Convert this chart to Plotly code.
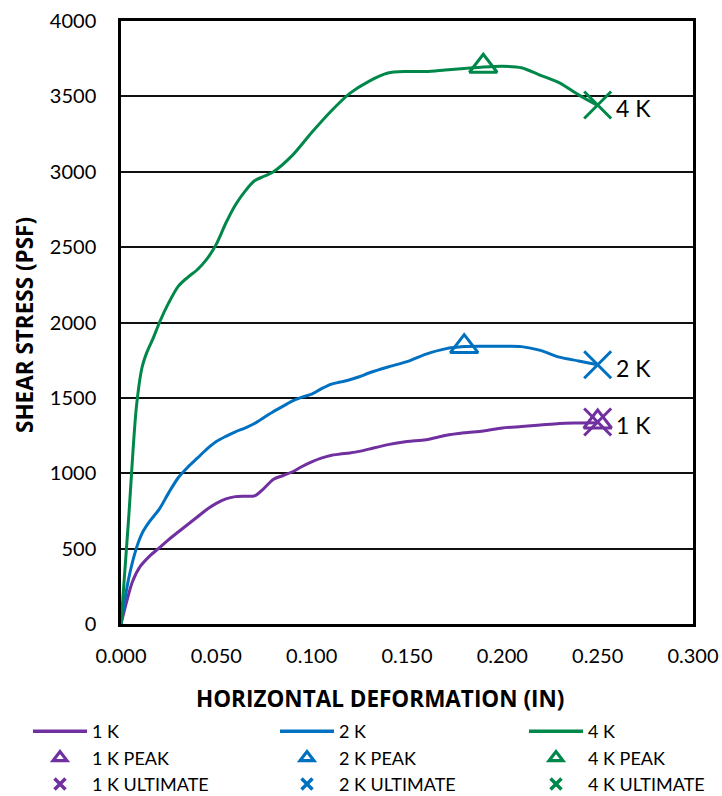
import plotly.graph_objects as go

# ---- data ----
x_1k = [0, 0.003, 0.006, 0.010, 0.015, 0.020, 0.025, 0.030, 0.035, 0.040, 0.045, 0.050, 0.055,
        0.060, 0.065, 0.070, 0.075, 0.080, 0.085, 0.090, 0.095, 0.100, 0.105, 0.110, 0.115,
        0.120, 0.125, 0.130, 0.140, 0.150, 0.160, 0.170, 0.180, 0.190, 0.200, 0.210, 0.220,
        0.230, 0.240, 0.250]
y_1k = [0, 150, 280, 380, 450, 505, 560, 610, 660, 710, 760, 800, 830,
        845, 848, 850, 900, 960, 985, 1010, 1045, 1075, 1100, 1118, 1127,
        1135, 1145, 1160, 1190, 1210, 1222, 1250, 1268, 1280, 1300, 1310, 1320,
        1330, 1333, 1335]

x_2k = [0, 0.004, 0.008, 0.011, 0.015, 0.020, 0.025, 0.030, 0.035, 0.040, 0.045, 0.050, 0.055,
        0.060, 0.065, 0.070, 0.075, 0.080, 0.085, 0.090, 0.095, 0.100, 0.105, 0.110, 0.115,
        0.120, 0.125, 0.130, 0.140, 0.150, 0.160, 0.170, 0.180, 0.190, 0.200, 0.210, 0.220,
        0.230, 0.240, 0.250]
y_2k = [0, 300, 500, 600, 680, 760, 870, 970, 1040, 1100, 1160, 1210, 1245,
        1275, 1300, 1330, 1370, 1410, 1445, 1480, 1505, 1525, 1560, 1590, 1605,
        1620, 1640, 1665, 1705, 1740, 1790, 1825, 1840, 1842, 1842, 1840, 1815,
        1770, 1745, 1720]

x_4k = [0, 0.004, 0.008, 0.011, 0.0135, 0.017, 0.0205, 0.025, 0.030, 0.035, 0.040, 0.045, 0.050,
        0.055, 0.060, 0.065, 0.070, 0.075, 0.080, 0.090, 0.100, 0.110, 0.120, 0.130, 0.140,
        0.150, 0.160, 0.170, 0.180, 0.190, 0.200, 0.210, 0.220, 0.230, 0.240, 0.250]
y_4k = [0, 700, 1430, 1700, 1800, 1900, 2010, 2130, 2240, 2300, 2350, 2420, 2520,
        2660, 2780, 2870, 2940, 2970, 3000, 3110, 3260, 3400, 3520, 3600, 3655,
        3665, 3665, 3675, 3685, 3695, 3700, 3690, 3640, 3590, 3510, 3440]

series_names = ["1 K", "2 K", "4 K"]
peak_x = [0.250, 0.180, 0.190]
peak_y = [1340, 1840, 3700]
ult_x = [0.250, 0.250, 0.250]
ult_y = [1340, 1720, 3443]

x_ticks = [0, 0.05, 0.10, 0.15, 0.20, 0.25, 0.30]
y_ticks = [0, 500, 1000, 1500, 2000, 2500, 3000, 3500, 4000]

colors = ["#7030A0", "#0070C0", "#00884A"]
xs = [x_1k, x_2k, x_4k]
ys = [y_1k, y_2k, y_4k]
legends = ["legend", "legend2", "legend3"]

fig = go.Figure()
for i in range(3):
    c = colors[i]
    # plotted marks
    fig.add_trace(go.Scatter(x=xs[i], y=ys[i], mode="lines", name=series_names[i],
                             line=dict(color=c, width=3, shape="spline", smoothing=0.8),
                             showlegend=False))
    fig.add_trace(go.Scatter(x=[peak_x[i]], y=[peak_y[i]], mode="markers",
                             name=series_names[i] + " PEAK",
                             marker=dict(symbol="triangle-up-open", size=24, color=c,
                                         line=dict(color=c, width=3)),
                             showlegend=False))
    fig.add_trace(go.Scatter(x=[ult_x[i]], y=[ult_y[i]], mode="markers",
                             name=series_names[i] + " ULTIMATE",
                             marker=dict(symbol="x-thin-open", size=27, color=c,
                                         line=dict(color=c, width=3)),
                             showlegend=False))
    # legend entries (no data, only styling for the key)
    fig.add_trace(go.Scatter(x=[None], y=[None], mode="lines", name=series_names[i],
                             line=dict(color=c, width=3.5), legend=legends[i]))
    fig.add_trace(go.Scatter(x=[None], y=[None], mode="markers", name=series_names[i] + " PEAK",
                             marker=dict(symbol="triangle-up-open", size=12, color=c,
                                         line=dict(color=c, width=3.2)),
                             legend=legends[i]))
    fig.add_trace(go.Scatter(x=[None], y=[None], mode="markers",
                             name=series_names[i] + " ULTIMATE",
                             marker=dict(symbol="x-thin-open", size=11, color=c,
                                         line=dict(color=c, width=3.5)),
                             legend=legends[i]))

PL, PT, PW, PH = 121, 21, 572, 603  # plot area in pixels

annotations = []
for i in range(3):
    annotations.append(dict(x=ult_x[i], y=ult_y[i], xref="x", yref="y", text=series_names[i],
                            showarrow=False, xanchor="left", yanchor="middle", xshift=16, yshift=-3,
                            font=dict(family="Lato", size=23, color="black")))
annotations.append(dict(text="<b>HORIZONTAL DEFORMATION (IN)</b>", xref="paper", yref="paper",
                        x=(380 - PL) / PW, y=(PT + PH - 698) / PH, showarrow=False,
                        xanchor="center", yanchor="middle",
                        font=dict(family="Open Sans", size=22.5, color="black")))
annotations.append(dict(text="<b>SHEAR STRESS (PSF)</b>", xref="paper", yref="paper",
                        x=(25 - PL) / PW, y=(PT + PH - 325) / PH, showarrow=False, textangle=-90,
                        xanchor="center", yanchor="middle",
                        font=dict(family="Open Sans", size=22.5, color="black")))

leg_common = dict(xref="paper", yref="paper", xanchor="left", yanchor="top",
                  font=dict(family="Lato", size=18, color="black"), itemwidth=54,
                  bgcolor="rgba(0,0,0,0)", tracegroupgap=0, orientation="v")
col_x = [28, 275, 524]
leg_top = 713
fig.update_layout(
    width=722, height=796,
    margin=dict(l=PL, r=722 - PL - PW, t=PT, b=796 - PT - PH, autoexpand=False),
    paper_bgcolor="white", plot_bgcolor="white",
    font=dict(family="Lato", size=20, color="black"),
    showlegend=True,
    legend=dict(x=(col_x[0] - PL) / PW, y=(PT + PH - leg_top) / PH, **leg_common),
    legend2=dict(x=(col_x[1] - PL) / PW, y=(PT + PH - leg_top) / PH, **leg_common),
    legend3=dict(x=(col_x[2] - PL) / PW, y=(PT + PH - leg_top) / PH, **leg_common),
    annotations=annotations,
    xaxis=dict(range=[0, 0.3], tickvals=x_ticks, tickformat=".3f", showgrid=False,
               showline=True, linecolor="black", linewidth=2.5, mirror=True,
               ticks="", ticklabelstandoff=12, zeroline=False, automargin=False,
               tickfont=dict(family="Lato", size=20, color="black")),
    yaxis=dict(range=[0, 4000], tickvals=y_ticks, showgrid=True, gridcolor="#111111", gridwidth=1.5,
               showline=True, linecolor="black", linewidth=2.5, mirror=True,
               ticks="", ticklabelstandoff=18, zeroline=False, automargin=False,
               tickfont=dict(family="Lato", size=20, color="black")),
)

fig.write_html("out.html", config={"displayModeBar": False},
               post_script="document.body.style.margin='0';document.body.style.padding='0';")
